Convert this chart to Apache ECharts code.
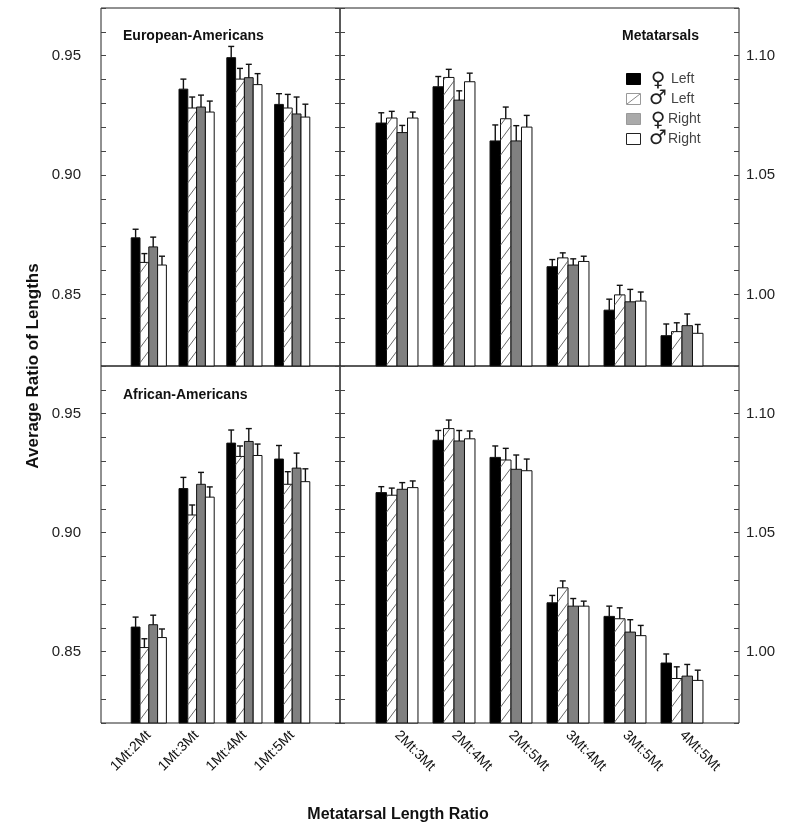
<!DOCTYPE html>
<html>
<head>
<meta charset="utf-8">
<script src="https://cdn.jsdelivr.net/npm/echarts@6/dist/echarts.min.js"></script>
<style>
html,body{margin:0;padding:0;background:#fff;}
#chart{width:800px;height:838px;}
</style>
</head>
<body>
<div id="chart"></div>
<script>
// Category labels
const cats1 = ['1Mt:2Mt', '1Mt:3Mt', '1Mt:4Mt', '1Mt:5Mt'];          // left panels (left axis)
const cats2 = ['2Mt:3Mt', '2Mt:4Mt', '2Mt:5Mt', '3Mt:4Mt', '3Mt:5Mt', '4Mt:5Mt']; // right panels (right axis)
const leftTicks = [0.85, 0.90, 0.95];
const rightTicks = [1.00, 1.05, 1.10];

// European-Americans: first 4 values -> cats1 (left axis), last 6 -> cats2 (right axis)
const euroFemLeft    = [0.8737, 0.9360, 0.9492, 0.9296, 1.0718, 1.0870, 1.0643, 1.0116, 0.9934, 0.9827];
const euroFemLeftSE  = [0.0036, 0.0042, 0.0047, 0.0045, 0.0043, 0.0043, 0.0067, 0.0030, 0.0046, 0.0049];
const euroMaleLeft   = [0.8634, 0.9281, 0.9402, 0.9281, 1.0739, 1.0909, 1.0736, 1.0153, 0.9998, 0.9844];
const euroMaleLeftSE = [0.0037, 0.0046, 0.0045, 0.0057, 0.0028, 0.0034, 0.0049, 0.0021, 0.0040, 0.0037];
const euroFemRight   = [0.8699, 0.9285, 0.9408, 0.9256, 1.0678, 1.0814, 1.0643, 1.0123, 0.9969, 0.9869];
const euroFemRightSE = [0.0041, 0.0050, 0.0056, 0.0071, 0.0030, 0.0039, 0.0064, 0.0026, 0.0052, 0.0049];
const euroMaleRight  = [0.8623, 0.9264, 0.9379, 0.9243, 1.0739, 1.0891, 1.0701, 1.0138, 0.9972, 0.9837];
const euroMaleRightSE= [0.0037, 0.0046, 0.0046, 0.0054, 0.0025, 0.0036, 0.0049, 0.0022, 0.0038, 0.0037];

// African-Americans
const afroFemLeft    = [0.8603, 0.9185, 0.9376, 0.9309, 1.0668, 1.0888, 1.0816, 1.0205, 1.0148, 0.9952];
const afroFemLeftSE  = [0.0042, 0.0047, 0.0055, 0.0057, 0.0025, 0.0041, 0.0048, 0.0031, 0.0043, 0.0038];
const afroMaleLeft   = [0.8517, 0.9074, 0.9320, 0.9203, 1.0657, 1.0937, 1.0805, 1.0268, 1.0138, 0.9887];
const afroMaleLeftSE = [0.0037, 0.0042, 0.0044, 0.0053, 0.0030, 0.0036, 0.0049, 0.0029, 0.0046, 0.0049];
const afroFemRight   = [0.8613, 0.9203, 0.9383, 0.9271, 1.0682, 1.0885, 1.0766, 1.0191, 1.0082, 0.9897];
const afroFemRightSE = [0.0040, 0.0050, 0.0054, 0.0063, 0.0028, 0.0044, 0.0060, 0.0032, 0.0052, 0.0049];
const afroMaleRight  = [0.8559, 0.9149, 0.9324, 0.9214, 1.0689, 1.0894, 1.0760, 1.0191, 1.0067, 0.9879];
const afroMaleRightSE= [0.0036, 0.0043, 0.0048, 0.0054, 0.0028, 0.0033, 0.0049, 0.0021, 0.0043, 0.0043];

const seriesNames = ['\u2640 Left', '\u2642 Left', '\u2640 Right', '\u2642 Right'];
const populations = [
  { means: [euroFemLeft, euroMaleLeft, euroFemRight, euroMaleRight],
    ses:   [euroFemLeftSE, euroMaleLeftSE, euroFemRightSE, euroMaleRightSE] },
  { means: [afroFemLeft, afroMaleLeft, afroFemRight, afroMaleRight],
    ses:   [afroFemLeftSE, afroMaleLeftSE, afroFemRightSE, afroMaleRightSE] }
];

const FONT = '"Liberation Sans", Arial, Helvetica, sans-serif';
const fills = ['#000000', '#ffffff', '#808080', '#ffffff'];

function makeRender(k) {
  return function (params, api) {
    const xi = api.value(0), v = api.value(1), e = api.value(2);
    const band = api.size([1, 0])[0];
    const w = band * 0.184;
    const c = api.coord([xi, v]);
    const cx = c[0] + (k - 1.5) * w;
    const cs = params.coordSys;
    const bottom = cs.y + cs.height;
    const top = c[1];
    const x0 = cx - w / 2;
    const yErr = api.coord([xi, v + e])[1];
    const children = [];
    children.push({
      type: 'rect',
      shape: { x: x0, y: top, width: w, height: bottom - top },
      style: { fill: fills[k], stroke: '#111', lineWidth: 1 }
    });
    if (k === 1) {
      const rise = w * 1.35, gap = 15;
      for (let y0 = bottom + rise; y0 > top - gap; y0 -= gap) {
        const tMin = Math.max(0, (y0 - bottom) / rise);
        const tMax = Math.min(1, (y0 - top) / rise);
        if (tMax > tMin) {
          children.push({
            type: 'line',
            shape: { x1: x0 + w * tMin, y1: y0 - rise * tMin, x2: x0 + w * tMax, y2: y0 - rise * tMax },
            style: { stroke: '#555', lineWidth: 0.9 }
          });
        }
      }
    }
    children.push({
      type: 'line', shape: { x1: cx, y1: top, x2: cx, y2: yErr },
      style: { stroke: '#111', lineWidth: 1.4 }
    });
    children.push({
      type: 'line', shape: { x1: cx - 3, y1: yErr, x2: cx + 3, y2: yErr },
      style: { stroke: '#111', lineWidth: 1.4 }
    });
    return { type: 'group', children: children };
  };
}

const grids = [
  { left: 101, top: 8, width: 239, height: 358 },
  { left: 340, top: 8, width: 399, height: 358 },
  { left: 101, top: 366, width: 239, height: 357 },
  { left: 340, top: 366, width: 399, height: 357 }
].map(g => Object.assign(g, { show: true, borderColor: '#222', borderWidth: 1, containLabel: false }));

const xAxes = [0, 1, 2, 3].map(g => {
  const isLeft = g % 2 === 0;
  const cats = isLeft ? cats1 : cats2;
  return {
    type: 'value', gridIndex: g, min: 0, max: cats.length + 1, interval: 1,
    axisLine: { show: false }, axisTick: { show: false }, splitLine: { show: false },
    axisLabel: {
      show: g >= 2, rotate: isLeft ? 45 : -45, margin: 10,
      fontFamily: FONT, fontSize: 14, color: '#111',
      formatter: v => cats[v - 1] || ''
    }
  };
});

const yAxes = [];
for (let g = 0; g < 4; g++) {
  const isLeftPanel = g % 2 === 0;
  const mn = isLeftPanel ? 0.82 : 0.97, mx = isLeftPanel ? 0.97 : 1.12;
  const labelled = isLeftPanel ? leftTicks : rightTicks;
  ['left', 'right'].forEach(pos => {
    const showLab = (isLeftPanel && pos === 'left') || (!isLeftPanel && pos === 'right');
    yAxes.push({
      type: 'value', gridIndex: g, position: pos, min: mn, max: mx, interval: 0.01,
      axisLine: { show: false },
      axisTick: { show: true, inside: true, length: 5, lineStyle: { color: '#444', width: 1 } },
      splitLine: { show: false },
      axisLabel: {
        show: showLab, margin: pos === 'left' ? 20 : 7,
        fontFamily: FONT, fontSize: 15, color: '#222',
        formatter: v => {
          const r = Math.round(v * 100) / 100;
          return labelled.some(t => Math.abs(t - r) < 1e-6) ? r.toFixed(2) : '';
        }
      }
    });
  });
}

const series = [];
populations.forEach((pop, p) => {
  for (let k = 0; k < 4; k++) {
    series.push({
      type: 'custom', name: seriesNames[k],
      xAxisIndex: p * 2, yAxisIndex: p * 4,
      renderItem: makeRender(k), clip: false,
      data: cats1.map((c, i) => [i + 1, pop.means[k][i], pop.ses[k][i]])
    });
    series.push({
      type: 'custom', name: seriesNames[k],
      xAxisIndex: p * 2 + 1, yAxisIndex: p * 4 + 2,
      renderItem: makeRender(k), clip: false,
      data: cats2.map((c, i) => [i + 1, pop.means[k][i + 4], pop.ses[k][i + 4]])
    });
  }
});

// legend (drawn as graphics)
const legendRows = [79, 99, 119, 139];
const legendSym = ['\u2640', '\u2642', '\u2640', '\u2642'];
const legendTxt = ['Left', 'Left', 'Right', 'Right'];
const legendGraphics = [];
legendRows.forEach((y, k) => {
  const boxStyles = [
    { fill: '#000', stroke: '#000' },
    { fill: '#fff', stroke: '#999' },
    { fill: '#aaa', stroke: '#999' },
    { fill: '#fff', stroke: '#222' }
  ];
  legendGraphics.push({ type: 'rect', shape: { x: 626.5, y: y - 5.5, width: 14, height: 11 }, style: Object.assign({ lineWidth: 1 }, boxStyles[k]) });
  if (k === 1) legendGraphics.push({ type: 'line', shape: { x1: 627, y1: y + 5, x2: 640, y2: y - 5 }, style: { stroke: '#888', lineWidth: 1 } });
  legendGraphics.push({ type: 'text', x: 658, y: k % 2 === 0 ? y + 2 : y, style: { text: legendSym[k], fontFamily: '"DejaVu Sans", sans-serif', fontSize: 20, fill: '#222', align: 'center', verticalAlign: 'middle' } });
  legendGraphics.push({ type: 'text', x: k < 2 ? 671 : 668, y: y, style: { text: legendTxt[k], fontFamily: FONT, fontSize: 14, fill: '#444', align: 'left', verticalAlign: 'middle' } });
});

const option = {
  backgroundColor: '#fff',
  animation: false,
  grid: grids,
  xAxis: xAxes,
  yAxis: yAxes,
  series: series,
  graphic: [
    { type: 'text', x: 123, y: 36, style: { text: 'European-Americans', fontFamily: FONT, fontWeight: 'bold', fontSize: 14, fill: '#111', verticalAlign: 'middle' } },
    { type: 'text', x: 123, y: 395, style: { text: 'African-Americans', fontFamily: FONT, fontWeight: 'bold', fontSize: 14, fill: '#111', verticalAlign: 'middle' } },
    { type: 'text', x: 622, y: 36, style: { text: 'Metatarsals', fontFamily: FONT, fontWeight: 'bold', fontSize: 14, fill: '#111', verticalAlign: 'middle' } },
    { type: 'text', x: 33, y: 366, rotation: Math.PI / 2, style: { text: 'Average Ratio of Lengths', fontFamily: FONT, fontWeight: 'bold', fontSize: 17, fill: '#111', align: 'center', verticalAlign: 'middle' } },
    { type: 'text', x: 398, y: 815, style: { text: 'Metatarsal Length Ratio', fontFamily: FONT, fontWeight: 'bold', fontSize: 16, fill: '#111', align: 'center', verticalAlign: 'middle' } }
  ].concat(legendGraphics)
};

const chart = echarts.init(document.getElementById('chart'), null, { renderer: 'canvas' });
chart.setOption(option);
</script>
</body>
</html>
